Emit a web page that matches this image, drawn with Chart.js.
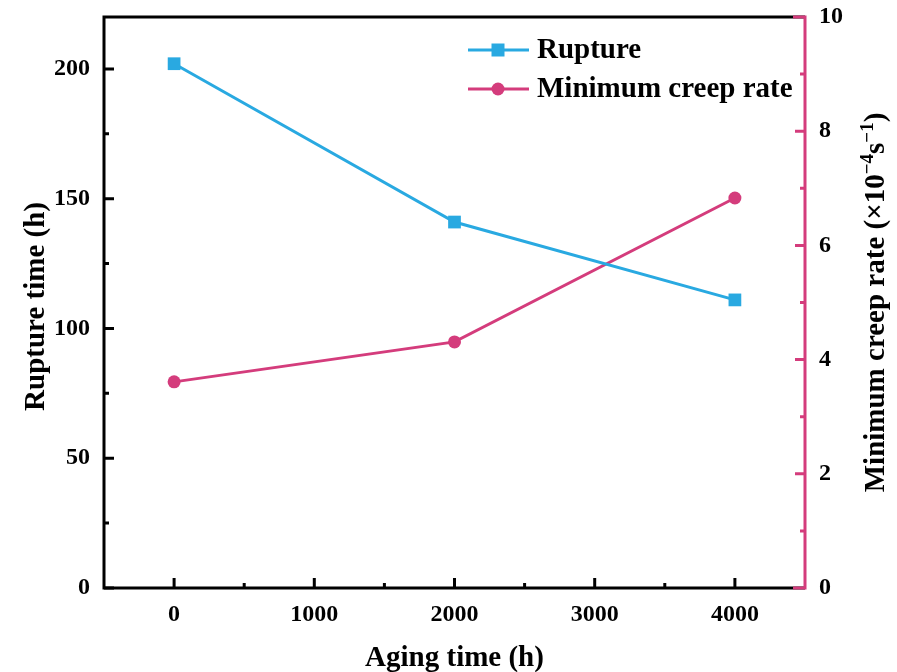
<!DOCTYPE html>
<html>
<head>
<meta charset="utf-8">
<script src="https://cdn.jsdelivr.net/npm/chart.js@4/dist/chart.umd.min.js"></script>
<style>
  html, body { margin: 0; padding: 0; background: #fff; }
  #wrap { width: 897px; height: 672px; }
</style>
</head>
<body>
<div id="wrap"><canvas id="creep-chart"></canvas></div>
<script>
// aging time (h) and measured results
const agingTime = [0, 2000, 4000];
const ruptureTime = [202, 141, 111];
const minCreepRate = [3.61, 4.31, 6.83];

const xTicks = [0, 1000, 2000, 3000, 4000];
const ruptureTicks = [0, 50, 100, 150, 200];
const creepTicks = [0, 2, 4, 6, 8, 10];

const seriesNames = ['Rupture', 'Minimum creep rate'];
const xTitle = 'Aging time (h)';
const leftTitle = 'Rupture time (h)';
const rightTitle = ['Minimum creep rate (\u00d710', '\u22124', 's', '\u22121', ')'];

const CYAN = '#29a9e1';
const PINK = '#d43c7c';
const SERIF = '"Liberation Serif", "Times New Roman", serif';

function toPoints(xs, ys) {
  return xs.map((x, i) => ({ x: x, y: ys[i] }));
}

function fixTicks(values) {
  return function (scale) {
    scale.ticks = values.map(v => ({ value: v }));
  };
}

// keep the plot area where the layout puts it, no room for label overhang
function fitBox(w, h) {
  return function (scale) {
    if (w !== null) scale.width = w;
    if (h !== null) scale.height = h;
    scale.paddingTop = 0;
    scale.paddingBottom = 0;
    scale.paddingLeft = 0;
    scale.paddingRight = 0;
  };
}

const tickFont = { family: SERIF, size: 24, weight: 'bold' };
const plainLabel = v => String(v);

function drawMarker(ctx, style, x, y, color) {
  ctx.fillStyle = color;
  ctx.beginPath();
  if (style === 'rect') {
    ctx.rect(x - 6.5, y - 6.5, 13, 13);
  } else {
    ctx.arc(x, y, 6.5, 0, Math.PI * 2);
  }
  ctx.fill();
}

// axis frame with inward ticks, axis titles and the legend
const framePlugin = {
  id: 'frame',
  beforeDatasetsDraw(chart) {
    const ctx = chart.ctx;
    const a = chart.chartArea;
    const sx = chart.scales.x, sy = chart.scales.y, sy1 = chart.scales.y1;
    ctx.save();
    ctx.lineWidth = 3;
    ctx.lineCap = 'butt';

    const minors = (ticks, scale) => {
      const step = ticks[1] - ticks[0];
      const out = [];
      for (let v = ticks[0] - step / 2; v <= scale.max; v += step) {
        if (v > scale.min && v < scale.max) out.push(v);
      }
      return out;
    };

    // black frame: left, bottom, top
    ctx.strokeStyle = '#000';
    ctx.beginPath();
    ctx.moveTo(a.right, a.top);
    ctx.lineTo(a.left, a.top);
    ctx.lineTo(a.left, a.bottom);
    ctx.lineTo(a.right, a.bottom);
    ctx.stroke();

    ctx.beginPath();
    ruptureTicks.forEach(v => {
      const p = sy.getPixelForValue(v);
      ctx.moveTo(a.left, p); ctx.lineTo(a.left + 10, p);
    });
    minors(ruptureTicks, sy).forEach(v => {
      const p = sy.getPixelForValue(v);
      ctx.moveTo(a.left, p); ctx.lineTo(a.left + 5, p);
    });
    xTicks.forEach(v => {
      const p = sx.getPixelForValue(v);
      ctx.moveTo(p, a.bottom); ctx.lineTo(p, a.bottom - 10);
    });
    minors(xTicks, sx).forEach(v => {
      const p = sx.getPixelForValue(v);
      ctx.moveTo(p, a.bottom); ctx.lineTo(p, a.bottom - 5);
    });
    ctx.stroke();

    // pink right axis
    ctx.strokeStyle = PINK;
    ctx.beginPath();
    ctx.moveTo(a.right - 12, a.top);
    ctx.lineTo(a.right, a.top);
    ctx.lineTo(a.right, a.bottom);
    ctx.lineTo(a.right - 12, a.bottom);
    creepTicks.forEach(v => {
      const p = sy1.getPixelForValue(v);
      ctx.moveTo(a.right, p); ctx.lineTo(a.right - 10, p);
    });
    minors(creepTicks, sy1).forEach(v => {
      const p = sy1.getPixelForValue(v);
      ctx.moveTo(a.right, p); ctx.lineTo(a.right - 5, p);
    });
    ctx.stroke();
    ctx.restore();
  },
  afterDraw(chart) {
    const ctx = chart.ctx;
    const a = chart.chartArea;
    const midY = (a.top + a.bottom) / 2;
    ctx.save();
    ctx.fillStyle = '#000';
    ctx.font = 'bold 29px ' + SERIF;
    ctx.textBaseline = 'alphabetic';

    // bottom title
    ctx.textAlign = 'center';
    ctx.fillText(xTitle, (a.left + a.right) / 2, 666);

    // left title
    ctx.save();
    ctx.translate(44, midY + 4);
    ctx.rotate(-Math.PI / 2);
    ctx.fillText(leftTitle, 0, 0);
    ctx.restore();

    // right title, with superscripts
    ctx.save();
    ctx.translate(884, midY);
    ctx.rotate(-Math.PI / 2);
    ctx.textAlign = 'left';
    const big = 'bold 29px ' + SERIF, small = 'bold 19px ' + SERIF;
    const parts = rightTitle.map((t, i) => ({ t: t, sup: i % 2 === 1 }));
    let total = 0;
    parts.forEach(p => { ctx.font = p.sup ? small : big; p.w = ctx.measureText(p.t).width; total += p.w; });
    let x = -total / 2;
    parts.forEach(p => {
      ctx.font = p.sup ? small : big;
      ctx.fillText(p.t, x, p.sup ? -11 : 0);
      x += p.w;
    });
    ctx.restore();

    // legend
    const rows = [
      { y: 50, color: CYAN, style: 'rect', label: seriesNames[0] },
      { y: 89, color: PINK, style: 'circle', label: seriesNames[1] }
    ];
    ctx.font = 'bold 29px ' + SERIF;
    ctx.textAlign = 'left';
    ctx.textBaseline = 'middle';
    rows.forEach(r => {
      ctx.strokeStyle = r.color;
      ctx.lineWidth = 3;
      ctx.beginPath();
      ctx.moveTo(468, r.y); ctx.lineTo(529, r.y);
      ctx.stroke();
      drawMarker(ctx, r.style, 498, r.y, r.color);
      ctx.fillStyle = '#000';
      ctx.fillText(r.label, 537, r.y + 1);
    });
    ctx.restore();
  }
};

new Chart(document.getElementById('creep-chart').getContext('2d'), {
  type: 'line',
  data: {
    datasets: [{
      label: seriesNames[0],
      data: toPoints(agingTime, ruptureTime),
      yAxisID: 'y',
      borderColor: CYAN,
      backgroundColor: CYAN,
      borderWidth: 3,
      pointStyle: 'rect',
      pointRadius: 9,
      pointBorderWidth: 0,
      tension: 0
    }, {
      label: seriesNames[1],
      data: toPoints(agingTime, minCreepRate),
      yAxisID: 'y1',
      borderColor: PINK,
      backgroundColor: PINK,
      borderWidth: 3,
      pointStyle: 'circle',
      pointRadius: 6.5,
      pointBorderWidth: 0,
      tension: 0
    }]
  },
  options: {
    responsive: true,
    maintainAspectRatio: false,
    animation: false,
    layout: { padding: { top: 17, left: 0, right: 0, bottom: 0 } },
    scales: {
      x: {
        type: 'linear',
        min: -500,
        max: 4500,
        afterBuildTicks: fixTicks(xTicks),
        afterFit: fitBox(null, 84),
        grid: { display: false },
        border: { display: false },
        ticks: { padding: 4, color: '#000', font: tickFont, maxRotation: 0, autoSkip: false, callback: plainLabel }
      },
      y: {
        position: 'left',
        min: 0,
        max: 220,
        afterBuildTicks: fixTicks(ruptureTicks),
        afterFit: fitBox(104, null),
        grid: { display: false },
        border: { display: false },
        ticks: { padding: 6, color: '#000', font: tickFont, autoSkip: false, callback: plainLabel }
      },
      y1: {
        position: 'right',
        min: 0,
        max: 10,
        afterBuildTicks: fixTicks(creepTicks),
        afterFit: fitBox(92, null),
        grid: { display: false },
        border: { display: false },
        ticks: { padding: 6, color: '#000', font: tickFont, autoSkip: false, callback: plainLabel }
      }
    },
    plugins: {
      legend: { display: false },
      tooltip: { enabled: false }
    }
  },
  plugins: [framePlugin]
});
</script>
</body>
</html>
